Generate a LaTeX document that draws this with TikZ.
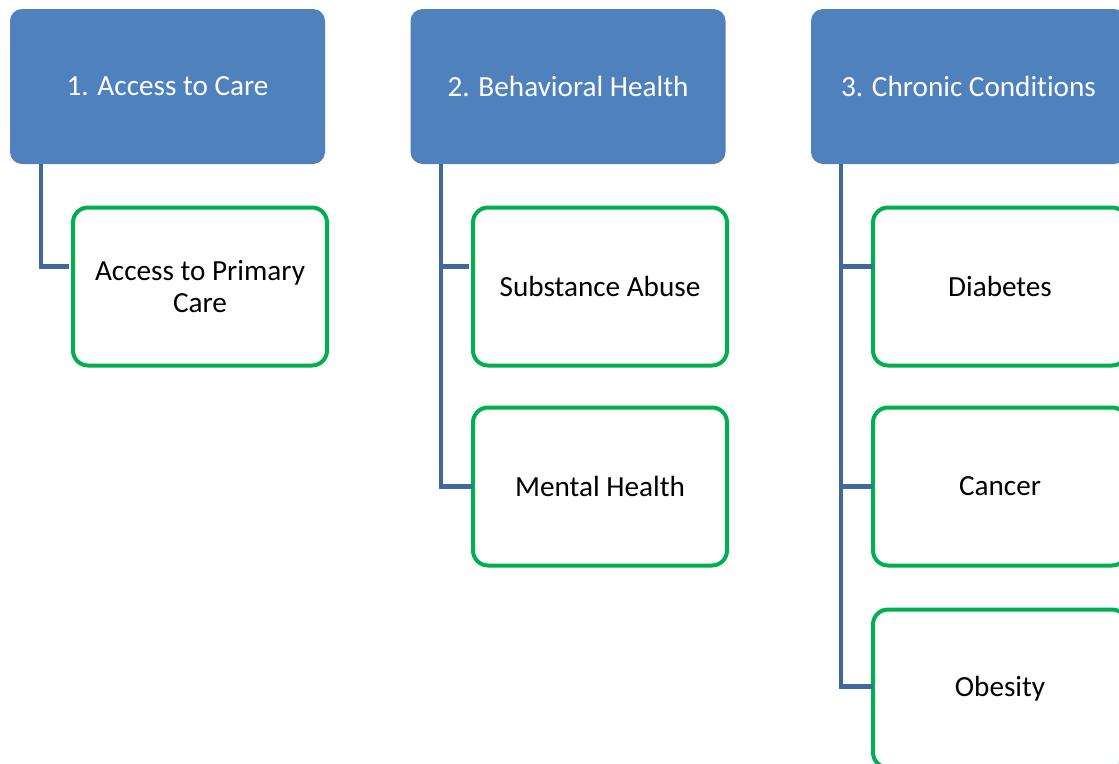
\documentclass[tikz,border=0pt]{standalone}
\usepackage{fontspec}
\setmainfont{Carlito}[Ligatures=NoCommon]
\definecolor{hdrblue}{RGB}{79,129,189}
\definecolor{connblue}{RGB}{65,104,155}
\definecolor{boxgreen}{RGB}{0,176,80}
\tikzset{
  header/.style={fill=hdrblue, rounded corners=12pt, minimum width=315pt, minimum height=155pt,
    inner sep=0pt, outer sep=0pt, text=white, font=\fontsize{29.2}{34}\selectfont, align=center},
  childbox/.style={draw=boxgreen, line width=4pt, fill=white, rounded corners=15pt,
    minimum width=254pt, minimum height=158pt, inner sep=0pt, outer sep=0pt,
    text=black, font=\fontsize{29.2}{32}\selectfont, align=center},
  conn/.style={draw=connblue, line width=4.5pt}
}
\begin{document}
\begin{tikzpicture}[x=1pt,y=-1pt]
\useasboundingbox (0,0) rectangle (1119,763);
\clip (0,0) rectangle (1119,763);
\fill[white] (0,0) rectangle (1119,763);
% headers
\node[header] (h1) at (167.5,86.5) {1. Access to Care};
\node[header] (h2) at (568,86.5) {2. Behavioral Health};
\node[header] (h3) at (968.5,86.5) {3. Chronic Conditions};
% connector tops
\coordinate (t1) at (41,164);
\coordinate (t2) at (441,164);
\coordinate (t3) at (841,164);
% children
\node[childbox] (a1) at (200,286.5) {Access to Primary\\Care};
\node[childbox] (b1) at (600,286.5) {Substance Abuse};
\node[childbox] (b2) at (600,486.5) {Mental Health};
\node[childbox] (c1) at (1000,286.5) {Diabetes};
\node[childbox] (c2) at (1000,486.5) {Cancer};
\node[childbox] (c3) at (1000,688.5) {Obesity};
% connectors
\draw[conn] (t1) |- ([yshift=20pt,xshift=-4pt]a1.west);
\draw[conn] (t2) |- ([yshift=20pt,xshift=-4pt]b1.west);
\draw[conn] (t2) |- (b2.west);
\draw[conn] (t3) |- ([yshift=20pt]c1.west);
\draw[conn] (t3) |- (c2.west);
\draw[conn] (t3) |- ([yshift=2pt]c3.west);
\end{tikzpicture}
\end{document}
